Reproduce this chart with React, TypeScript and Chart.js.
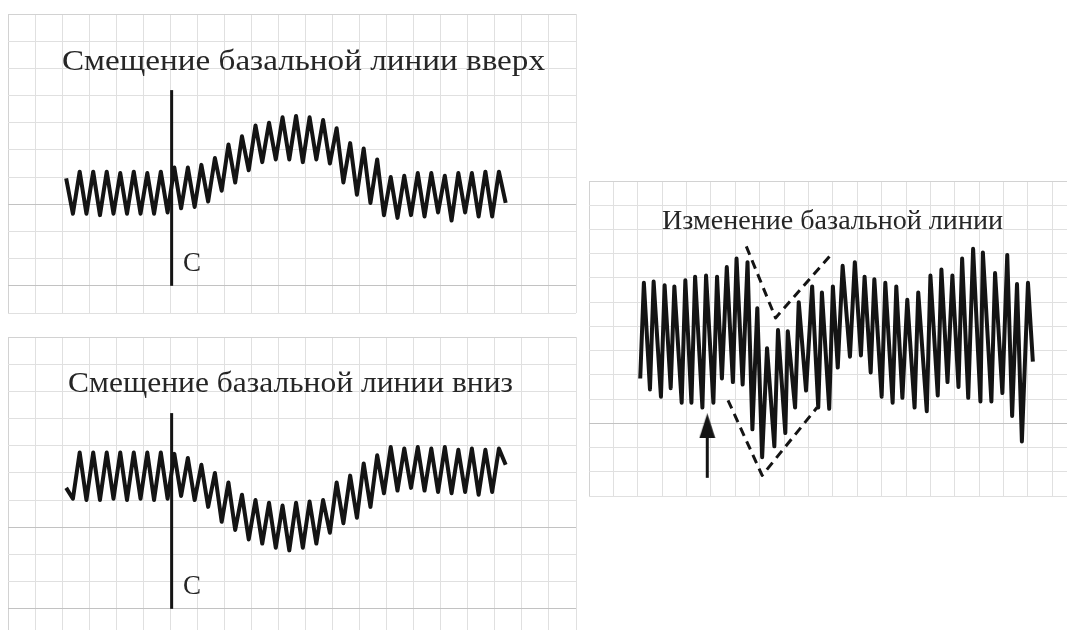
import React, { useEffect, useLayoutEffect, useRef } from "react";
import { Chart, registerables } from "chart.js";

Chart.register(...registerables);

// ---- data (x: time, 1 grid square = 10 units; y: level, 1 grid square = 10 units) ----
const shiftTime = [
  21.5, 24, 26.5, 29, 31.5, 34, 36.5, 39, 41.5, 44, 46.5, 49, 51.5, 54, 56.5, 59, 61.5, 64, 66.5, 69,
  71.5, 74, 76.5, 79, 81.5, 84, 86.5, 89, 91.5, 94, 96.5, 99, 101.5, 104, 106.5, 109, 111.5, 114, 116.5, 119,
  121.5, 124, 126.5, 129, 131.5, 134, 136.5, 139, 141.5, 144, 146.5, 149, 151.5, 154, 156.5, 159, 161.5, 164, 166.5, 169,
  171.5, 174, 176.5, 179, 181.5, 184,
];
const upwardShift = [
  49.5, 36.5, 52, 36.5, 52, 36, 52, 36.5, 51.5, 36.5, 52, 36.5, 51.5, 36.5, 52, 37, 53.5, 38.5, 53.5, 39,
  54.5, 41, 57, 45, 62, 48, 65, 52.5, 69, 55.5, 70, 56.5, 72, 56.5, 72.5, 55.5, 72, 56.5, 71, 55,
  68, 48, 62.5, 43.5, 60.5, 40.5, 56.5, 36, 50, 35, 50.5, 36, 51.5, 35.5, 51.5, 37, 50.5, 34, 51.5, 37,
  51.5, 35.5, 52, 35.5, 52, 40.5,
];
const downwardShift = [
  54.5, 50.5, 67.5, 50, 67.5, 50, 67.5, 50.5, 67.5, 50, 67.5, 50.5, 67.5, 50, 67.5, 50.5, 67, 51.5, 65.5, 50,
  63, 47.5, 60, 42, 56.5, 39, 52, 35.5, 50, 34, 49, 32.5, 48, 31.5, 49, 32.5, 49.5, 34, 50, 38,
  56.5, 41.5, 59, 43.5, 63.5, 47.5, 66.5, 52.5, 69.5, 53.5, 69, 54.5, 69.5, 53.5, 69, 53, 69.5, 52.5, 68.5, 53,
  69, 52, 68.5, 53, 69, 63,
];
const markerTime = [60.5, 60.5];
const markerLevel = [10, 82];

const changeTime = [
  21, 22.5, 25, 26.5, 29.5, 31, 33.5, 35, 38, 39.5, 42, 43.5, 46.5, 48, 51, 52.5, 54.5, 56.5, 59, 60.5,
  63, 65, 67, 69, 71, 73, 76, 77.5, 80.5, 81.5, 84.5, 86, 89, 91.5, 94, 95.5, 98.5, 100, 102, 104,
  107, 109, 111.5, 113, 115.5, 117, 120, 121.5, 124.5, 126, 128.5, 130.5, 133.5, 135, 138.5, 140, 143, 144.5, 147, 149,
  151.5, 153, 155.5, 157.5, 160.5, 161.5, 165, 166.5, 169.5, 171.5, 173.5, 175.5, 177.5, 180, 182,
];
const changeLevel = [
  48.5, 88, 44, 88.5, 41, 87, 44.5, 86.5, 38.5, 89, 38.5, 90.5, 36.5, 91, 38.5, 90.5, 48.5, 94.5, 47, 98,
  46, 96.5, 27.5, 77.5, 16, 61, 20.5, 68.5, 26, 68, 36.5, 80, 43.5, 86.5, 36.5, 84, 36, 86.5, 53, 95,
  57.5, 96.5, 58, 90.5, 51, 89.5, 41, 88, 38.5, 86.5, 40.5, 81, 36.5, 84, 35, 91, 41.5, 93.5, 47, 91,
  45, 98, 40.5, 102, 39, 100.5, 39, 92, 42.5, 99.5, 33, 87.5, 22.5, 88, 55.5,
];
const upperGuideTime = [64.5, 76.5, 100];
const upperGuideLevel = [103, 73.5, 100.5];
const lowerGuideTime = [57, 71, 93.5];
const lowerGuideLevel = [39.5, 8.5, 36.5];
const arrowTime = [48.5, 48.5];
const arrowLevel = [7.5, 27];
const arrowHeadTime = [48.5];
const arrowHeadLevel = [29];

const titleUp = "Смещение базальной линии вверх";
const titleDown = "Смещение базальной линии вниз";
const titleChange = "Изменение базальной линии";
const markerLabel = "С";

// ---- styling ----
const LIGHT = "#e0e0e0";
const DARK = "#c2c2c2";
const EDGE = "#d2d2d2";
const INK = "#141414";
const FONT = '"Liberation Serif", "Times New Roman", serif';

const pts = (xs: number[], ys: number[]) => xs.map((x, i) => ({ x, y: ys[i] }));

const gridColor = (dark: number[], edge: number[]) => (ctx: any) => {
  const v = ctx.tick ? ctx.tick.value : null;
  if (dark.includes(v)) return DARK;
  if (edge.includes(v)) return EDGE;
  return LIGHT;
};

function baseOptions(xMax: number, yMax: number, yDark: number[], yEdge: number[]): any {
  return {
    animation: false,
    responsive: false,
    maintainAspectRatio: false,
    events: [],
    layout: { padding: 2, autoPadding: false },
    plugins: { legend: { display: false }, tooltip: { enabled: false }, title: { display: false } },
    scales: {
      x: {
        type: "linear",
        min: 0,
        max: xMax,
        ticks: { display: false, stepSize: 10, includeBounds: false },
        grid: { color: gridColor([], [0]), lineWidth: 1, drawTicks: false },
        border: { display: false },
      },
      y: {
        type: "linear",
        min: 0,
        max: yMax,
        ticks: { display: false, stepSize: 10, includeBounds: false },
        grid: { color: gridColor(yDark, yEdge), lineWidth: 1, drawTicks: false },
        border: { display: false },
      },
    },
  };
}

const lineDs = (data: any[], width = 4, dash: number[] = []) => ({
  data,
  showLine: true,
  borderColor: INK,
  backgroundColor: INK,
  borderWidth: width,
  borderDash: dash,
  borderJoinStyle: "round",
  pointRadius: 0,
  tension: 0,
  fill: false,
});

function FitText(props: { text: string; left: number; baseline: number; width?: number; size: number }) {
  const ref = useRef<HTMLSpanElement>(null);
  const { text, left, baseline, width, size } = props;
  useLayoutEffect(() => {
    const el = ref.current;
    if (!el || !width) return;
    el.style.transform = "none";
    const w = el.getBoundingClientRect().width;
    if (w > 0) el.style.transform = `scaleX(${width / w})`;
  }, [text, width]);
  return (
    <span
      ref={ref}
      style={{
        position: "absolute",
        left,
        top: baseline - size * 0.8375,
        fontFamily: FONT,
        fontSize: size,
        lineHeight: `${size}px`,
        color: "#262626",
        whiteSpace: "nowrap",
        transformOrigin: "0 0",
      }}
    >
      {text}
    </span>
  );
}

export default function App() {
  const upRef = useRef<HTMLCanvasElement>(null);
  const downRef = useRef<HTMLCanvasElement>(null);
  const changeRef = useRef<HTMLCanvasElement>(null);

  useEffect(() => {
    const head = document.createElement("canvas");
    head.width = 17;
    head.height = 25;
    const g = head.getContext("2d");
    if (g) {
      g.fillStyle = INK;
      g.beginPath();
      g.moveTo(8.5, 0);
      g.lineTo(16.5, 25);
      g.lineTo(0.5, 25);
      g.closePath();
      g.fill();
    }

    const charts: Chart[] = [];
    if (upRef.current) {
      charts.push(
        new Chart(upRef.current, {
          type: "scatter",
          data: {
            datasets: [lineDs(pts(markerTime, markerLevel), 3), lineDs(pts(shiftTime, upwardShift))] as any,
          },
          options: baseOptions(210, 110, [10, 40], [110]),
        })
      );
    }
    if (downRef.current) {
      charts.push(
        new Chart(downRef.current, {
          type: "scatter",
          data: {
            datasets: [lineDs(pts(markerTime, markerLevel), 3), lineDs(pts(shiftTime, downwardShift))] as any,
          },
          options: baseOptions(210, 110, [10, 40], [110]),
        })
      );
    }
    if (changeRef.current) {
      charts.push(
        new Chart(changeRef.current, {
          type: "scatter",
          data: {
            datasets: [
              lineDs(pts(upperGuideTime, upperGuideLevel), 3, [9, 6]),
              lineDs(pts(lowerGuideTime, lowerGuideLevel), 3, [9, 6]),
              {
                data: pts(arrowHeadTime, arrowHeadLevel),
                showLine: false,
                pointStyle: head,
                pointRadius: 8,
                backgroundColor: INK,
                borderColor: INK,
              },
              lineDs(pts(arrowTime, arrowLevel), 3),
              lineDs(pts(changeTime, changeLevel)),
            ] as any,
          },
          options: baseOptions(196, 130, [30], [130]),
        })
      );
    }
    return () => charts.forEach((c) => c.destroy());
  }, []);

  return (
    <div
      style={{
        position: "absolute",
        left: 0,
        top: 0,
        width: 1067,
        height: 630,
        overflow: "hidden",
        background: "#ffffff",
      }}
    >
      <canvas ref={upRef} width={572} height={303} style={{ position: "absolute", left: 6, top: 12 }} />
      <canvas ref={downRef} width={572} height={303} style={{ position: "absolute", left: 6, top: 335 }} />
      <canvas ref={changeRef} width={482} height={319} style={{ position: "absolute", left: 587, top: 179 }} />
      <FitText text={titleUp} left={62} baseline={70} width={483} size={30} />
      <FitText text={titleDown} left={68} baseline={392} width={445} size={30} />
      <FitText text={titleChange} left={662} baseline={230} width={341} size={27} />
      <FitText text={markerLabel} left={183} baseline={272} size={27} />
      <FitText text={markerLabel} left={183} baseline={595} size={27} />
    </div>
  );
}
